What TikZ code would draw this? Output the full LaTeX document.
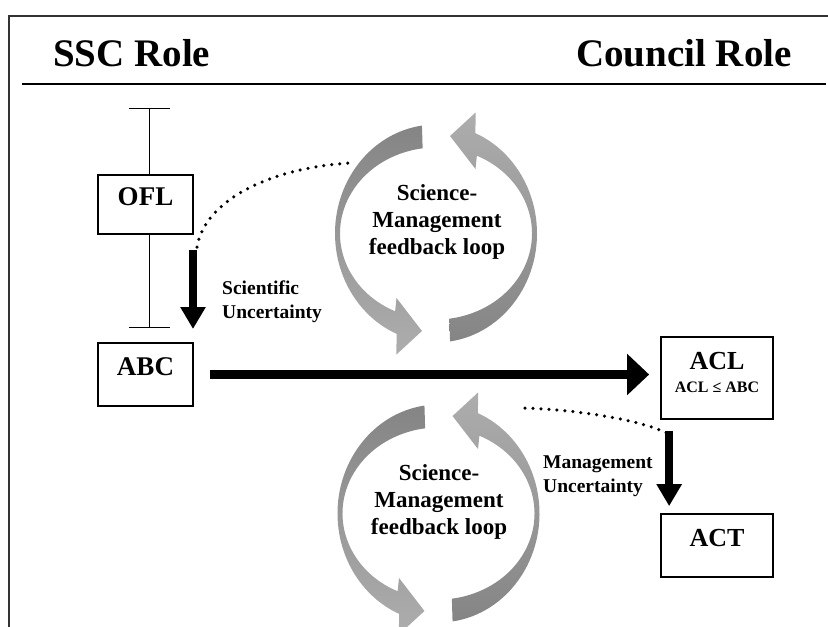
\documentclass[tikz,border=0pt]{standalone}
\usepackage{fontspec}
\setmainfont{Liberation Serif}
\usetikzlibrary{arrows.meta}

\begin{document}
\begin{tikzpicture}[x=1pt, y=1pt,
  roletitle/.style={inner sep=0pt, font=\bfseries\fontsize{39}{44}\selectfont},
  valbox/.style={draw, line width=1.7pt, fill=white, inner sep=0pt, text depth=15pt,
    font=\bfseries\fontsize{27}{30}\selectfont},
  uncert/.style={inner sep=0pt, align=left, font=\bfseries\fontsize{19.5}{23.5}\selectfont},
  looptext/.style={inner sep=0pt, align=center, font=\bfseries\fontsize{23}{27}\selectfont},
  bigarrow/.style={line width=8.5pt, -{Triangle[length=22pt, width=24pt]}},
  dotline/.style={line width=3.5pt, line cap=round, dash pattern=on 0pt off 8pt},
  ]

  \useasboundingbox (0,0) rectangle (828,-627);
  \clip (0,0) rectangle (828,-627);

  % frame and header
  \draw[line width=2.5pt, black!80] (9,-640) -- (9,-16) -- (840,-16);
  \node[roletitle, anchor=base west] (ssc) at (53,-66) {SSC Role};
  \node[roletitle, anchor=base east] (council) at (792,-66) {Council Role};
  \draw[line width=1.2pt] (22,-84) -- (826,-84);

  % range bar behind OFL
  \coordinate (barTop) at (149.5,-108);
  \coordinate (barBot) at (149.5,-327);
  \draw[line width=1pt] (barTop) -- (barBot);
  \draw[line width=1pt] (barTop) +(-20.5,0) -- +(20.5,0);
  \draw[line width=1pt] (barBot) +(-20.5,0) -- +(20.5,0);

  % boxes
  \node[valbox, minimum width=95pt, minimum height=59pt] (ofl) at (145.5,-204.5) {OFL};
  \node[valbox, minimum width=95pt, minimum height=63pt] (abc) at (145.5,-374.5) {ABC};
  \node[valbox, minimum width=112pt, minimum height=82pt, text depth=33.6pt,
    font=\bfseries\fontsize{26}{30}\selectfont] (acl) at (717,-378) {ACL};
  \node[anchor=base, inner sep=0pt, font=\bfseries\fontsize{16}{18}\selectfont] (aclNote) at (717,-392) {ACL ≤ ABC};
  \node[valbox, minimum width=112pt, minimum height=63pt,
    font=\bfseries\fontsize{26}{30}\selectfont] (act) at (717,-545.5) {ACT};

  % feedback loops
  \foreach \cx/\cy in {436/-233.5, 438.5/-513.5}
    \foreach \a/\ct/\cb in {0/black!48/black!32, 180/black!32/black!48}
      \shade[top color=\ct, bottom color=\cb, shift={(\cx,\cy)}]
        (\a+98:101 and 109) arc[start angle=\a+98, end angle=\a+247, x radius=101, y radius=109]
        -- (\a+251.9:127.3) -- (\a+261.8:98.5) -- (\a+238.5:75.6)
        -- (\a+244.8:96 and 86) arc[start angle=\a+244.8, end angle=\a+98, x radius=96, y radius=86]
        -- cycle;
  \node[looptext] (loopTop) at (437,-222) {Science-\\Management\\feedback loop};
  \node[looptext] (loopBot) at (439,-502) {Science-\\Management\\feedback loop};

  % uncertainty steps
  \coordinate (sciTop) at (193,-250);
  \coordinate (sciTip) at (193,-329);
  \draw[bigarrow] (sciTop) -- (sciTip);
  \node[uncert, anchor=base west] (sciLabel) at (222,-318) {Scientific\\Uncertainty};

  \draw[line width=8.5pt, -{Triangle[length=22pt, width=40pt]}, shorten <=16pt, shorten >=11pt]
    (abc.east) -- (abc.east -| acl.west); % ABC->ACL

  \coordinate (mgmtTop) at ([shift={(9pt,-11pt)}]acl.south west);
  \draw[bigarrow, shorten >=7pt] (mgmtTop) -- (mgmtTop |- act.north); % ACL->ACT
  \node[uncert, anchor=base west] (mgmtLabel) at (543,-492) {Management\\Uncertainty};

  % dotted links to the loops
  \coordinate (sciLoop) at (350,-163);
  \draw[dotline] ([shift={(4pt,3pt)}]sciTop) .. controls (205,-200) and (270,-168) .. (sciLoop);
  \coordinate (mgmtLoop) at (525,-408);
  \draw[dotline] (mgmtLoop) .. controls (580,-410) and (640,-420) .. ([shift={(-3pt,-2pt)}]mgmtTop);
\end{tikzpicture}
\end{document}
